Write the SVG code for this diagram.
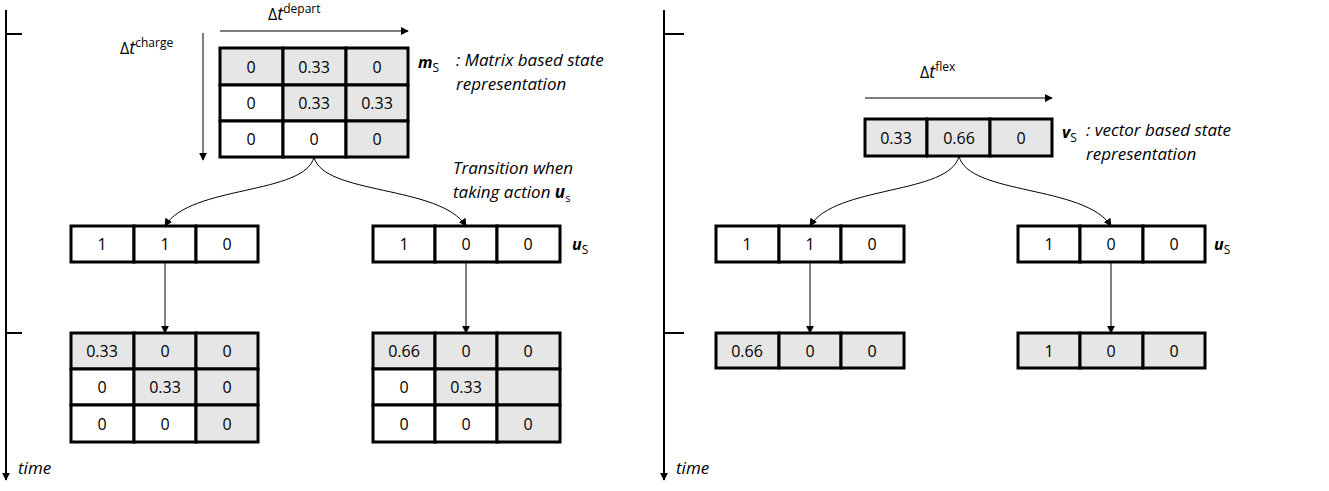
<svg xmlns="http://www.w3.org/2000/svg" width="1329" height="491" viewBox="0 0 1329 491">
<style>
text{font-family:"Open Sans","Liberation Sans",sans-serif;font-size:16px;fill:#000}
.c{text-anchor:middle;dominant-baseline:central}
.i{font-style:italic;font-size:17px}
.g{fill:#e6e6e6;stroke:#000;stroke-width:3}
.w{fill:#fff;stroke:#000;stroke-width:3}
.ln{stroke:#000;stroke-width:1;fill:none}
.ax{stroke:#000;stroke-width:2;fill:none}
</style>
<defs>
<marker id="a" viewBox="0 0 10 10" refX="9" refY="5" markerWidth="8" markerHeight="8" orient="auto" markerUnits="userSpaceOnUse"><path d="M0,0L10,5L0,10z"/></marker>
</defs>
<g id="axes">
<line class="ax" x1="6" y1="10" x2="6" y2="480" marker-end="url(#a)"/>
<line class="ax" x1="6" y1="34" x2="22" y2="34"/><line class="ax" x1="6" y1="333" x2="22" y2="333"/>
<text x="18" y="474" class="i">time</text>
<line class="ax" x1="664" y1="10" x2="664" y2="480" marker-end="url(#a)"/>
<line class="ax" x1="664" y1="34" x2="684" y2="34"/><line class="ax" x1="664" y1="333" x2="684" y2="333"/>
<text x="676" y="474" class="i">time</text>
</g>
<g id="connectors">
<line class="ln" x1="220" y1="31" x2="408" y2="31" marker-end="url(#a)"/>
<line class="ln" x1="203" y1="33" x2="203" y2="160" marker-end="url(#a)"/>
<path class="ln" d="M314,157C305,195 190,185 165,226" marker-end="url(#a)"/>
<path class="ln" d="M314,157C323,195 440,185 466,226" marker-end="url(#a)"/>
<line class="ln" x1="165" y1="262" x2="165" y2="333" marker-end="url(#a)"/>
<line class="ln" x1="466" y1="262" x2="466" y2="333" marker-end="url(#a)"/>
<line class="ln" x1="865" y1="98" x2="1052" y2="98" marker-end="url(#a)"/>
<path class="ln" d="M959,156C950,195 835,185 810,226" marker-end="url(#a)"/>
<path class="ln" d="M959,156C968,195 1085,185 1111,226" marker-end="url(#a)"/>
<line class="ln" x1="810" y1="262" x2="810" y2="333" marker-end="url(#a)"/>
<line class="ln" x1="1111" y1="262" x2="1111" y2="333" marker-end="url(#a)"/>
</g>
<g id="labels">
<text x="268" y="20">Δ<tspan font-style="italic" font-size="18">t</tspan><tspan font-size="12" dy="-7">depart</tspan></text>
<text x="120" y="54">Δ<tspan font-style="italic" font-size="18">t</tspan><tspan font-size="12" dy="-7">charge</tspan></text>
<text x="418" y="68" font-weight="bold" font-style="italic">m<tspan font-weight="normal" font-style="normal" font-size="12" dy="4">S</tspan></text>
<text x="456" y="66" class="i">: Matrix based state</text>
<text x="456" y="90" class="i">representation</text>
<text x="453" y="174" class="i">Transition when</text>
<text x="453" y="198" class="i">taking action <tspan font-weight="bold">u</tspan><tspan font-style="normal" font-size="11" dy="4">s</tspan></text>
<text x="572" y="250" font-weight="bold" font-style="italic">u<tspan font-weight="normal" font-style="normal" font-size="12" dy="4">S</tspan></text>
<text x="920" y="78">Δ<tspan font-style="italic" font-size="18">t</tspan><tspan font-size="12" dy="-7">flex</tspan></text>
<text x="1062" y="138" font-weight="bold" font-style="italic">v<tspan font-weight="normal" font-style="normal" font-size="12" dy="4">S</tspan></text>
<text x="1086" y="136" class="i">: vector based state</text>
<text x="1086" y="160" class="i">representation</text>
<text x="1214" y="250" font-weight="bold" font-style="italic">u<tspan font-weight="normal" font-style="normal" font-size="12" dy="4">S</tspan></text>
</g>
<g id="m_top">
<rect class="g" x="220" y="48" width="63" height="37"/><rect class="g" x="283" y="48" width="63" height="37"/><rect class="g" x="346" y="48" width="62" height="37"/>
<rect class="w" x="220" y="85" width="63" height="36"/><rect class="g" x="283" y="85" width="63" height="36"/><rect class="g" x="346" y="85" width="62" height="36"/>
<rect class="w" x="220" y="121" width="63" height="36"/><rect class="w" x="283" y="121" width="63" height="36"/><rect class="g" x="346" y="121" width="62" height="36"/>
<text class="c" x="251" y="67">0</text><text class="c" x="314" y="67">0.33</text><text class="c" x="377" y="67">0</text>
<text class="c" x="251" y="103">0</text><text class="c" x="314" y="103">0.33</text><text class="c" x="377" y="103">0.33</text>
<text class="c" x="251" y="139">0</text><text class="c" x="314" y="139">0</text><text class="c" x="377" y="139">0</text>
</g>
<g id="u_left">
<rect class="w" x="71" y="226" width="63" height="36"/><rect class="w" x="134" y="226" width="62" height="36"/><rect class="w" x="196" y="226" width="62" height="36"/>
<text class="c" x="102" y="244">1</text><text class="c" x="165" y="244">1</text><text class="c" x="227" y="244">0</text>
</g>
<g id="u_right">
<rect class="w" x="373" y="226" width="62" height="36"/><rect class="w" x="435" y="226" width="62" height="36"/><rect class="w" x="497" y="226" width="63" height="36"/>
<text class="c" x="404" y="244">1</text><text class="c" x="466" y="244">0</text><text class="c" x="528" y="244">0</text>
</g>
<g id="m_left">
<rect class="g" x="71" y="333" width="63" height="36"/><rect class="g" x="134" y="333" width="62" height="36"/><rect class="g" x="196" y="333" width="62" height="36"/>
<rect class="w" x="71" y="369" width="63" height="36"/><rect class="g" x="134" y="369" width="62" height="36"/><rect class="g" x="196" y="369" width="62" height="36"/>
<rect class="w" x="71" y="405" width="63" height="37"/><rect class="w" x="134" y="405" width="62" height="37"/><rect class="g" x="196" y="405" width="62" height="37"/>
<text class="c" x="102" y="351">0.33</text><text class="c" x="165" y="351">0</text><text class="c" x="227" y="351">0</text>
<text class="c" x="102" y="387">0</text><text class="c" x="165" y="387">0.33</text><text class="c" x="227" y="387">0</text>
<text class="c" x="102" y="424">0</text><text class="c" x="165" y="424">0</text><text class="c" x="227" y="424">0</text>
</g>
<g id="m_right">
<rect class="g" x="373" y="333" width="62" height="36"/><rect class="g" x="435" y="333" width="62" height="36"/><rect class="g" x="497" y="333" width="63" height="36"/>
<rect class="w" x="373" y="369" width="62" height="36"/><rect class="g" x="435" y="369" width="62" height="36"/><rect class="g" x="497" y="369" width="63" height="36"/>
<rect class="w" x="373" y="405" width="62" height="37"/><rect class="w" x="435" y="405" width="62" height="37"/><rect class="g" x="497" y="405" width="63" height="37"/>
<text class="c" x="404" y="351">0.66</text><text class="c" x="466" y="351">0</text><text class="c" x="528" y="351">0</text>
<text class="c" x="404" y="387">0</text><text class="c" x="466" y="387">0.33</text>
<text class="c" x="404" y="424">0</text><text class="c" x="466" y="424">0</text><text class="c" x="528" y="424">0</text>
</g>
<g id="v_top">
<rect class="g" x="865" y="119" width="62" height="37"/><rect class="g" x="927" y="119" width="63" height="37"/><rect class="g" x="990" y="119" width="62" height="37"/>
<text class="c" x="896" y="138">0.33</text><text class="c" x="959" y="138">0.66</text><text class="c" x="1021" y="138">0</text>
</g>
<g id="u2_left">
<rect class="w" x="716" y="226" width="63" height="36"/><rect class="w" x="779" y="226" width="62" height="36"/><rect class="w" x="841" y="226" width="63" height="36"/>
<text class="c" x="747" y="244">1</text><text class="c" x="810" y="244">1</text><text class="c" x="872" y="244">0</text>
</g>
<g id="u2_right">
<rect class="w" x="1018" y="226" width="62" height="36"/><rect class="w" x="1080" y="226" width="63" height="36"/><rect class="w" x="1143" y="226" width="62" height="36"/>
<text class="c" x="1049" y="244">1</text><text class="c" x="1111" y="244">0</text><text class="c" x="1174" y="244">0</text>
</g>
<g id="v_left">
<rect class="g" x="716" y="333" width="63" height="35"/><rect class="g" x="779" y="333" width="62" height="35"/><rect class="g" x="841" y="333" width="63" height="35"/>
<text class="c" x="747" y="351">0.66</text><text class="c" x="810" y="351">0</text><text class="c" x="872" y="351">0</text>
</g>
<g id="v_right">
<rect class="g" x="1018" y="333" width="62" height="35"/><rect class="g" x="1080" y="333" width="63" height="35"/><rect class="g" x="1143" y="333" width="62" height="35"/>
<text class="c" x="1049" y="351">1</text><text class="c" x="1111" y="351">0</text><text class="c" x="1174" y="351">0</text>
</g>
</svg>
